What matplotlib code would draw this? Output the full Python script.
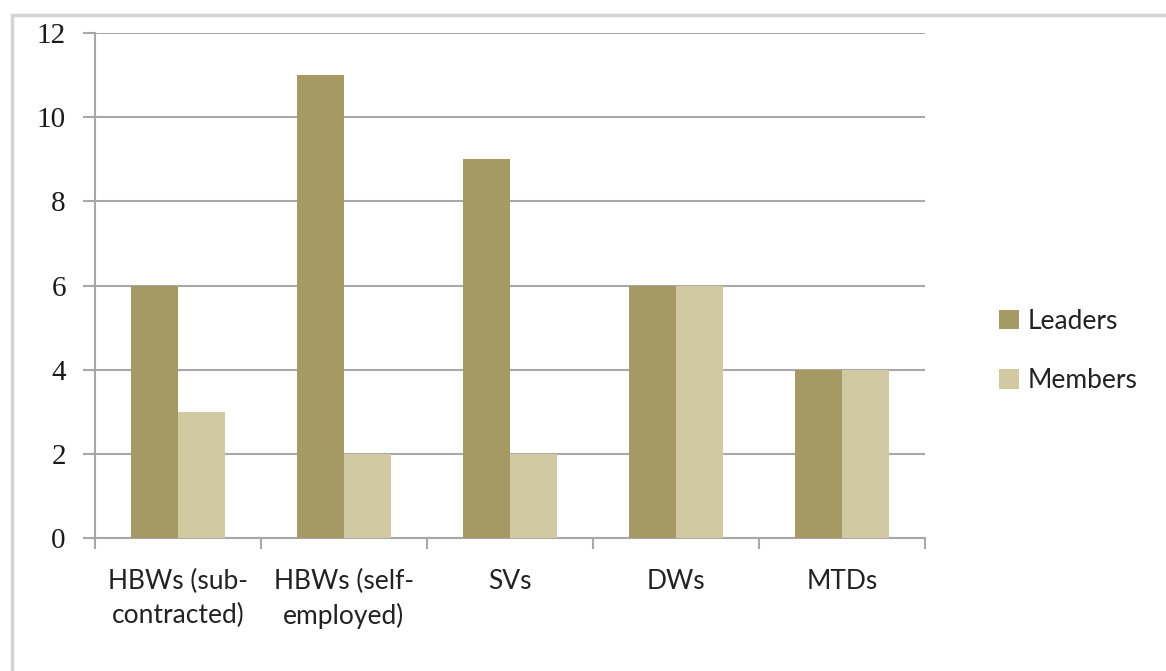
import numpy as np
import matplotlib.pyplot as plt
from matplotlib.patches import Rectangle

# data
categories = ["HBWs (sub-\ncontracted)", "HBWs (self-\nemployed)", "SVs", "DWs", "MTDs"]
leaders = [6, 11, 9, 6, 4]
members = [3, 2, 2, 6, 4]
yticks = [0, 2, 4, 6, 8, 10, 12]

c_lead = "#a59a64"
c_mem = "#d0c9a2"
c_axis = "#a8a8a8"

fig = plt.figure(figsize=(11.66, 6.71), dpi=100)

# outer chart border (cropped at right and bottom)
fig.patches.append(Rectangle((12 / 1166, -0.05), 1.2, 1 - 15 / 671 + 0.05,
                             transform=fig.transFigure, fill=False,
                             edgecolor="#d4d4d4", linewidth=2.5))

ax = fig.add_axes([95 / 1166, 1 - 538 / 671, 830 / 1166, 505 / 671])

x = np.arange(len(categories))
w = 0.285
ax.bar(x - w / 2, leaders, w, color=c_lead, label="Leaders", zorder=3)
ax.bar(x + w / 2, members, w, color=c_mem, label="Members", zorder=3)

ax.set_xlim(-0.5, len(categories) - 0.5)
ax.set_ylim(0, 12)
ax.set_yticks(yticks)
ax.set_yticklabels([str(v) for v in yticks], family="Liberation Serif",
                   fontsize=21, color="#1a1a1a")
ax.yaxis.grid(True, color=c_axis, linewidth=1.5, zorder=0)
ax.tick_params(axis="y", length=9, color=c_axis, width=1.5, pad=12)

# category labels between boundary ticks
ax.set_xticks(np.arange(len(categories) + 1) - 0.5)
ax.set_xticklabels([])
ax.set_xticks(x, minor=True)
ax.set_xticklabels(categories, minor=True, family="Lato", fontsize=19,
                   linespacing=1.45, va="top", color="#222222")
ax.tick_params(axis="x", which="major", length=8, color=c_axis, width=1.5)
ax.tick_params(axis="x", which="minor", length=0, pad=22)

for s in ["top", "right"]:
    ax.spines[s].set_visible(False)
for s in ["left", "bottom"]:
    ax.spines[s].set_color(c_axis)
    ax.spines[s].set_linewidth(1.5)

ax.legend(loc="center left", bbox_to_anchor=(975 / 1166, 1 - 351 / 671),
          bbox_transform=fig.transFigure, frameon=False,
          prop={"family": "Lato", "size": 19}, handlelength=0.75,
          handleheight=0.75, handletextpad=0.35, labelspacing=1.3,
          labelcolor="#222222")

fig.savefig("out.png", dpi=100)
